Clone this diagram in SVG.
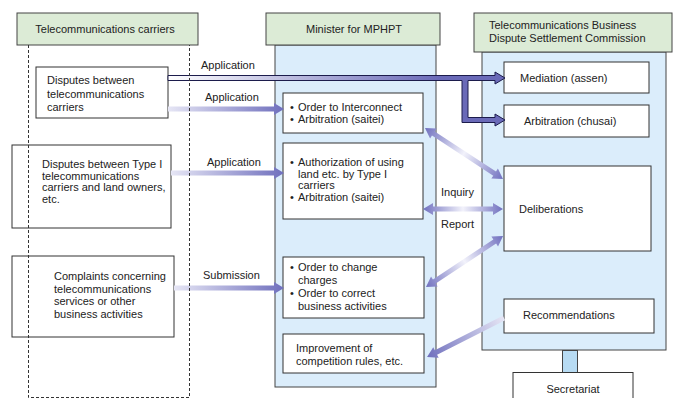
<svg xmlns="http://www.w3.org/2000/svg" width="674" height="398" viewBox="0 0 674 398">
<defs>
<style>
.hdr{fill:#dcebd6;stroke:#444;stroke-width:1}
.pnl{fill:#dbedfb;stroke:#444;stroke-width:1}
.box{fill:#fff;stroke:#333;stroke-width:1}
text{font-family:"Liberation Sans",Arial,sans-serif;font-size:11px;fill:#222}
.dash{fill:none;stroke:#333;stroke-width:1;stroke-dasharray:3 2}
</style>
<linearGradient id="gSingle" x1="0" y1="0" x2="1" y2="0">
<stop offset="0" stop-color="#e6e6f5"/>
<stop offset="1" stop-color="#6f6fbd"/>
</linearGradient>
<linearGradient id="gDouble" x1="0" y1="0" x2="1" y2="0">
<stop offset="0" stop-color="#7070bf"/>
<stop offset="0.5" stop-color="#f2f2fb"/>
<stop offset="1" stop-color="#7070bf"/>
</linearGradient>
<linearGradient id="gTop" gradientUnits="userSpaceOnUse" x1="168" y1="0" x2="440" y2="0">
<stop offset="0" stop-color="#ffffff"/>
<stop offset="1" stop-color="#6a6ab8"/>
</linearGradient>
</defs>
<rect width="674" height="398" fill="#fff"/>

<g id="carriers">
<rect class="hdr" x="17" y="13" width="181" height="32"/>
<text x="105" y="33" text-anchor="middle">Telecommunications carriers</text>
</g>
<g id="minister">
<rect class="pnl" x="275" y="45" width="161" height="342"/>
<rect class="hdr" x="266" y="13" width="174" height="32"/>
<text x="354" y="33" text-anchor="middle">Minister for MPHPT</text>
</g>
<g id="commission">
<rect class="pnl" x="482" y="52" width="184" height="298"/>
<rect class="hdr" x="474" y="13" width="198" height="39"/>
<text x="489" y="29">Telecommunications Business</text>
<text x="489" y="42">Dispute Settlement Commission</text>
</g>
<g id="secretariat">
<rect x="562.5" y="350.5" width="15" height="22" fill="#b7dbf3" stroke="#444"/>
<rect class="box" x="513" y="372.5" width="120" height="30"/>
<text x="573" y="393" text-anchor="middle">Secretariat</text>
</g>

<g id="dispute-carriers">
<rect class="box" x="36" y="67" width="132" height="51"/>
<text x="47" y="84">Disputes between</text>
<text x="47" y="97.5">telecommunications</text>
<text x="47" y="111">carriers</text>
</g>
<g id="dispute-type1">
<rect class="box" x="12" y="145" width="159" height="83"/>
<text x="42" y="168">Disputes between Type I</text>
<text x="42" y="179.5">telecommunications</text>
<text x="42" y="191">carriers and land owners,</text>
<text x="42" y="202.5">etc.</text>
</g>
<g id="complaints">
<rect class="box" x="12" y="256" width="162" height="81"/>
<text x="54" y="280">Complaints concerning</text>
<text x="54" y="292.5">telecommunications</text>
<text x="54" y="305">services or other</text>
<text x="54" y="317.5">business activities</text>
</g>

<g id="order-interconnect">
<rect class="box" x="283" y="93" width="140" height="40"/>
<text x="290" y="110.5">•</text><text x="298" y="110.5">Order to Interconnect</text>
<text x="290" y="122.5">•</text><text x="298" y="122.5">Arbitration (saitei)</text>
</g>
<g id="authorization">
<rect class="box" x="283" y="143" width="140" height="76"/>
<text x="290" y="166">•</text><text x="298" y="166">Authorization of using</text>
<text x="298" y="177.5">land etc. by Type I</text>
<text x="298" y="189">carriers</text>
<text x="290" y="200.5">•</text><text x="298" y="200.5">Arbitration (saitei)</text>
</g>
<g id="order-change">
<rect class="box" x="283" y="257" width="141" height="61"/>
<text x="290" y="270.5">•</text><text x="298" y="270.5">Order to change</text>
<text x="298" y="283.5">charges</text>
<text x="290" y="296.5">•</text><text x="298" y="296.5">Order to correct</text>
<text x="298" y="309.5">business activities</text>
</g>
<g id="improvement">
<rect class="box" x="283" y="334" width="141" height="39"/>
<text x="296" y="352">Improvement of</text>
<text x="296" y="365">competition rules, etc.</text>
</g>

<g id="mediation">
<rect class="box" x="504" y="62" width="145" height="31"/>
<text x="520" y="82">Mediation (assen)</text>
</g>
<g id="arbitration">
<rect class="box" x="504" y="105" width="145" height="32"/>
<text x="524" y="125">Arbitration (chusai)</text>
</g>
<g id="deliberations">
<rect class="box" x="504" y="166" width="147" height="85"/>
<text x="519" y="213">Deliberations</text>
</g>
<g id="recommendations">
<rect class="box" x="504" y="299" width="150" height="34"/>
<text x="523" y="319">Recommendations</text>
</g>

<g id="connectors">
<path d="M168,75.5 L495,75.5 L495,72 L505,78 L495,84 L495,80.5 L468,80.5 L468,117.5 L495,117.5 L495,114 L505,120 L495,126 L495,122.5 L462,122.5 L462,80.5 L168,80.5 Z" fill="url(#gTop)" stroke="#1c1c4c" stroke-width="1"/>
<path d="M168,106.5 L274,106.5 L274,103 L284,109 L274,115 L274,111.5 L168,111.5 Z" fill="url(#gSingle)"/>
<path d="M171,170.5 L274,170.5 L274,167 L284,173 L274,179 L274,175.5 L171,175.5 Z" fill="url(#gSingle)"/>
<path d="M174,285.5 L274,285.5 L274,282 L284,288 L274,294 L274,290.5 L174,290.5 Z" fill="url(#gSingle)"/>
<path transform="translate(425,128) rotate(33.2)" d="M0,0 L10,-6 L10,-2.5 L83.2,-2.5 L83.2,-6 L93.2,0 L83.2,6 L83.2,2.5 L10,2.5 L10,6 Z" fill="url(#gDouble)"/>
<path transform="translate(423,209)" d="M0,0 L10,-6 L10,-2.5 L70,-2.5 L70,-6 L80,0 L70,6 L70,2.5 L10,2.5 L10,6 Z" fill="url(#gDouble)"/>
<path transform="translate(426,287) rotate(-33.5)" d="M0,0 L10,-6 L10,-2.5 L82.4,-2.5 L82.4,-6 L92.4,0 L82.4,6 L82.4,2.5 L10,2.5 L10,6 Z" fill="url(#gDouble)"/>
<path transform="translate(504,318) rotate(153.1)" d="M0,-2.5 L76.3,-2.5 L76.3,-6 L86.3,0 L76.3,6 L76.3,2.5 L0,2.5 Z" fill="url(#gSingle)"/>
<text x="201" y="69">Application</text>
<text x="205" y="100.5">Application</text>
<text x="207" y="166">Application</text>
<text x="203" y="279">Submission</text>
<text x="441" y="196">Inquiry</text>
<text x="441" y="228">Report</text>
</g>

<g id="carrier-bounds">
<path class="dash" d="M28.5,45 L28.5,397.5 L189.5,397.5 L189.5,45"/>
</g>
</svg>
